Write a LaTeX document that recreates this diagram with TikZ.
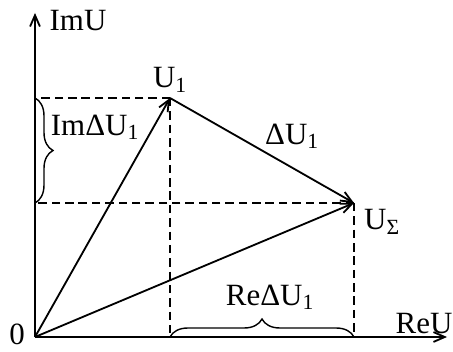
\documentclass[tikz,border=0pt]{standalone}
\usepackage{fontspec}
\setmainfont{Liberation Serif}
\usetikzlibrary{arrows.meta,decorations.pathreplacing}
\begin{document}
\begin{tikzpicture}[line width=1.3pt, >={Straight Barb[length=8pt,width=7pt]},
  every node/.style={font=\fontsize{22}{24}\selectfont, inner sep=1pt},
  guide/.style={dash pattern=on 6pt off 3.5pt, line width=1pt},
  brace/.style={decorate, decoration={brace, amplitude=0.45cm}, line width=1pt}]
  \useasboundingbox (0,0) rectangle (11.325,8.775);
  \coordinate (O) at (0.875,0.35);
  \coordinate (U1) at (4.25,6.325);
  \coordinate (Us) at (8.85,3.7);
  \coordinate (ytop) at (0.875,8.45);
  \coordinate (xend) at (11.175,0.35);
  % axes
  \draw[->] (O) -- (ytop);
  \draw[->] (O) -- (xend);
  % projections
  \foreach \p in {U1,Us} {
    \draw[guide] (\p) -- (O |- \p);
    \draw[guide] (\p) -- (\p |- O);
  }
  % phasors
  \draw[->] (O) -- (U1);
  \draw[->] (O) -- (Us);
  \draw[->] (U1) -- (Us);
  % braces
  \draw[brace] (O |- U1) -- (O |- Us);
  \draw[brace] (U1 |- O) -- (Us |- O);
  % labels
  \node (lblImU) at (1.95,8.25) {ImU};
  \node (lblReU) at (10.6,0.68) {ReU};
  \node[anchor=south] (lblO) at (0.425,0.09) {0};
  \node (lblU1) at (4.25,6.78) {U\textsubscript{1}};
  \node (lbldU) at (7.3,5.375) {ΔU\textsubscript{1}};
  \node (lblUs) at (9.55,3.225) {U\textsubscript{Σ}};
  \node (lblIm) at (2.375,5.6) {ImΔU\textsubscript{1}};
  \node (lblRe) at (6.75,1.35) {ReΔU\textsubscript{1}};
\end{tikzpicture}
\end{document}
